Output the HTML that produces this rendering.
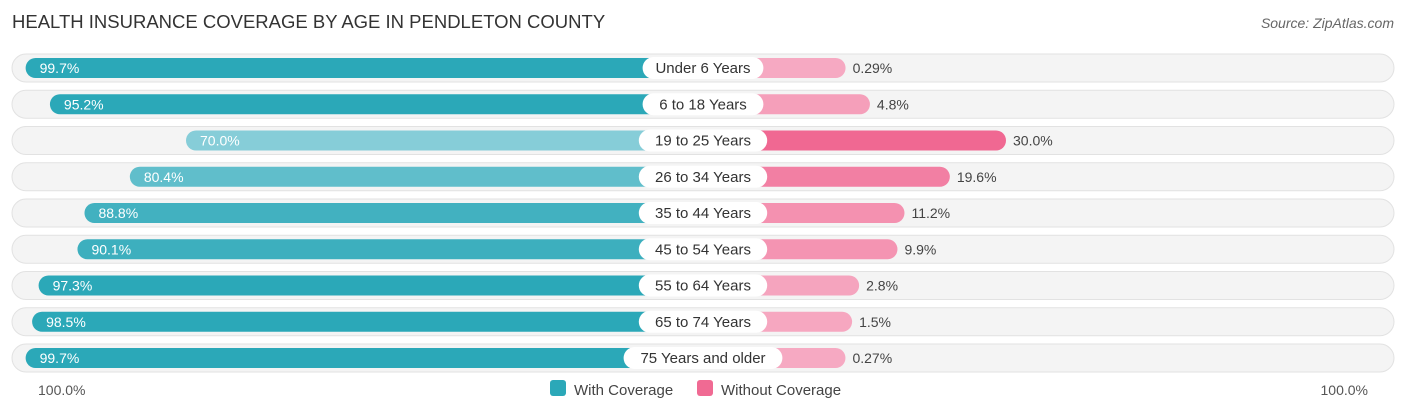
<!DOCTYPE html>
<html><head><meta charset="utf-8"><style>
body{margin:0;background:#fff;font-family:"Liberation Sans",sans-serif;}
svg text{font-family:"Liberation Sans",sans-serif;}
</style></head><body>
<svg width="1406" height="414" xmlns="http://www.w3.org/2000/svg" id="chart">
<text x="12" y="28" font-size="18.5" fill="#333">HEALTH INSURANCE COVERAGE BY AGE IN PENDLETON COUNTY</text>
<text x="1394" y="28" font-size="14" fill="#666" font-style="italic" text-anchor="end">Source: ZipAtlas.com</text>
<g id="rows"></g>
<text x="38" y="395" font-size="14" fill="#555">100.0%</text>
<text x="1368" y="395" font-size="14" fill="#555" text-anchor="end">100.0%</text>
<g>
<rect x="550" y="380" width="16" height="16" rx="3" fill="#2ba8b8"/>
<text x="574" y="395" font-size="15" fill="#444">With Coverage</text>
<rect x="697" y="380" width="16" height="16" rx="3" fill="#f06a93"/>
<text x="721" y="395" font-size="15" fill="#444">Without Coverage</text>
</g>
</svg>
<script>
const categories=["Under 6 Years","6 to 18 Years","19 to 25 Years","26 to 34 Years","35 to 44 Years","45 to 54 Years","55 to 64 Years","65 to 74 Years","75 Years and older"];
const withCoverage=[99.7,95.2,70.0,80.4,88.8,90.1,97.3,98.5,99.7];
const withoutCoverage=[0.29,4.8,30.0,19.6,11.2,9.9,2.8,1.5,0.27];
const withLabels=["99.7%","95.2%","70.0%","80.4%","88.8%","90.1%","97.3%","98.5%","99.7%"];
const withoutLabels=["0.29%","4.8%","30.0%","19.6%","11.2%","9.9%","2.8%","1.5%","0.27%"];
const NS="http://www.w3.org/2000/svg";
const g=document.getElementById('rows');
const cx=703, leftZero=564, rightZero=844, scale=5.4;
const xL=v=>leftZero-v*scale, xR=v=>rightZero+v*scale;
const rowY=i=>68+i*36.25;
function mix(a,b,t){return 'rgb('+a.map((c,k)=>Math.round(c+(b[k]-c)*t)).join(',')+')';}
function mk(tag,attrs){const e=document.createElementNS(NS,tag);for(const k in attrs)e.setAttribute(k,attrs[k]);g.appendChild(e);return e;}
categories.forEach((cat,i)=>{
  const y=rowY(i);
  const bg=mk('rect',{x:12,y:y-14,width:1382,height:28,rx:14,fill:'#f4f4f4',stroke:'#e2e2e2'});
  
  
  const t1=Math.min(1,Math.max(0,(withCoverage[i]-70)/25));
  const lb=mk('rect',{x:xL(withCoverage[i]),y:y-10,width:cx-xL(withCoverage[i]),height:20,rx:10,fill:mix([134,205,216],[43,168,184],t1)});
  
  
  const t2=Math.min(1,Math.max(0,withoutCoverage[i]/30));
  const rb=mk('rect',{x:cx,y:y-10,width:xR(withoutCoverage[i])-cx,height:20,rx:10,fill:mix([246,170,194],[240,104,146],t2)});
  
  
  const vl=mk('text',{x:xL(withCoverage[i])+14,y:y+5,'font-size':14,fill:'#fff'});
  vl.textContent=withLabels[i];
  
  
  const lw=cat.length*7.6+22;
  const pill=mk('rect',{x:cx-lw/2,y:y-11,width:lw,height:22,rx:11,fill:'#fff'});
  
  
  const cl=mk('text',{x:cx,y:y+5,'font-size':15,fill:'#333','text-anchor':'middle'});
  cl.textContent=cat;
  
  
  const wl=mk('text',{x:xR(withoutCoverage[i])+7,y:y+5,'font-size':14,fill:'#444'});
  wl.textContent=withoutLabels[i];
  
  
});
</script>
</body></html>
